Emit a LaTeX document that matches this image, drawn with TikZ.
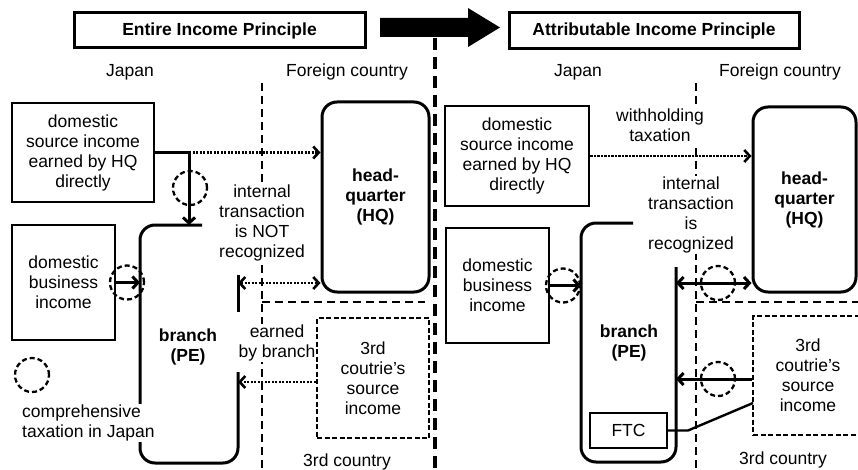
\documentclass[tikz,border=0pt]{standalone}
\usepackage{fontspec}
\setmainfont{Liberation Sans}
\usetikzlibrary{arrows.meta}

\tikzset{
  txt/.style={font=\fontsize{17.5}{20}\selectfont, align=center, inner sep=1pt},
  bold/.style={txt, font=\fontsize{17.5}{20}\selectfont\bfseries},
  knockout/.style={fill=white},
  box/.style={txt, draw, line width=2.8pt},
  titlebox/.style={box, font=\fontsize{17.5}{20}\selectfont\bfseries, line width=3pt},
  hqbox/.style={box, rounded corners=15pt, line width=3pt, font=\fontsize{17.5}{20}\selectfont\bfseries},
  thirdbox/.style={txt, draw, line width=2.6pt, dash pattern=on 5pt off 2.5pt},
  branchline/.style={line width=3pt, rounded corners=15pt},
  border/.style={line width=2.8pt, dash pattern=on 8pt off 5pt},
  divider/.style={line width=4pt, dash pattern=on 12pt off 7pt},
  barb/.tip={Straight Barb[length=5.5pt, width=12pt]},
  thickarrow/.style={line width=3pt, -barb},
  thickline/.style={line width=3pt},
  dotarrow/.style={line width=2.6pt, dash pattern=on 2.2pt off 1.3pt, -barb},
  taxcircle/.style={circle, draw, line width=2.3pt, dash pattern=on 5pt off 3pt, minimum size=34pt, inner sep=0pt},
}

\begin{document}
\begin{tikzpicture}[x=1pt, y=-1pt]
\useasboundingbox (0,0) rectangle (858,470);

% ---------- country borders (drawn first, text knocks them out) ----------
\draw[divider] (435,38) -- (435,470);
\draw[border] (262,83) -- (262,470);
\draw[border] (262,302) -- (425,302);
\draw[border] (696,83) -- (696,470);
\draw[border] (696,302) -- (870,302);

% ---------- transition arrow ----------
\fill (380,18) -- (468,18) -- (468,8) -- (500,27.5) -- (468,47) -- (468,37) -- (380,37) -- cycle;

% ---------- titles and regions ----------
\node[titlebox, minimum width=291pt, minimum height=35pt] (titleL) at (219.5,30.5) {Entire Income Principle};
\node[titlebox, minimum width=290pt, minimum height=36pt] (titleR) at (654,31) {Attributable Income Principle};

\node[txt] (japanL) at (130,72) {Japan};
\node[txt] (foreignL) at (347,72) {Foreign country};
\node[txt] (japanR) at (578,72) {Japan};
\node[txt] (foreignR) at (780,72) {Foreign country};
\node[txt] (thirdL) at (347,462) {3rd country};
\node[txt] (thirdR) at (783,460) {3rd country};

% ================= Entire Income Principle =================
\node[box, minimum width=142pt, minimum height=99pt] (dsiL) at (83,152.5)
  {domestic\\source income\\earned by HQ\\directly};
\node[box, minimum width=103pt, minimum height=115pt] (dbiL) at (63.5,282.5)
  {domestic\\business\\income};
\node[hqbox, minimum width=107pt, minimum height=190pt] (hqL) at (375.5,197)
  {head-\\quarter\\(HQ)};
\node[thirdbox, minimum width=112pt, minimum height=120pt] (tcL) at (373,378)
  {3rd\\coutrie's\\source\\income};

\node[txt, knockout] (intL) at (262,223) {internal\\transaction\\is NOT\\recognized};
\node[txt, knockout] (earnL) at (277,343) {earned\\by branch};

% branch (PE), open on the foreign side
\draw[branchline] (202,225) -- (140,225) -- (140,463) -- (238,463) -- (238,372);
\draw[thickline] (238,275) -- (238,312);
\node[bold] (brL) at (188,347) {branch\\(PE)};

\coordinate (jointL) at (189,152.5);
\coordinate (brTopL) at (189,225);
\coordinate (brInL) at (140,282.5);
\coordinate (brHqL) at (238,283);
\coordinate (brTcL) at (238,382);

\draw[thickline] (dsiL.east) -- (jointL);
\draw[thickarrow] (jointL) -- (brTopL);
\draw[dotarrow] (jointL) -- (jointL -| hqL.west);
\draw[thickarrow] (dbiL.east) -- (brInL);
\draw[dotarrow, barb-barb] (brHqL) -- (brHqL -| hqL.west);
\draw[dotarrow] (brTcL -| tcL.west) -- (brTcL);

\node[taxcircle] (cHqL) at (190,188) {};
\node[taxcircle] (cDbL) at (127,282.5) {};

% legend
\node[taxcircle] (legend) at (32,375) {};
\node[txt, knockout, anchor=west, align=left] (legendTxt) at (21,423)
  {comprehensive\\taxation in Japan};

% ================= Attributable Income Principle =================
\node[box, minimum width=144pt, minimum height=100pt] (dsiR) at (517,156)
  {domestic\\source income\\earned by HQ\\directly};
\node[box, minimum width=103pt, minimum height=115pt] (dbiR) at (497.5,285.5)
  {domestic\\business\\income};
\node[hqbox, minimum width=103pt, minimum height=185pt] (hqR) at (804.5,199.5)
  {head-\\quarter\\(HQ)};
\node[thirdbox, minimum width=110pt, minimum height=119pt] (tcR) at (808,375.5)
  {3rd\\coutrie's\\source\\income};

\node[txt, knockout] (whtR) at (660,125.5) {withholding\\taxation};
\node[txt, knockout] (intR) at (691,215) {internal\\transaction\\is\\recognized};

% branch (PE)
\draw[branchline] (633,223) -- (581,223) -- (581,462) -- (676,462) -- (676,267);
\node[bold] (brR) at (629,343) {branch\\(PE)};
\node[box, line width=2.4pt, minimum width=77pt, minimum height=35pt] (ftc) at (628.5,430.5) {FTC};

\coordinate (brInR) at (581,285.5);
\coordinate (brHqR) at (676,283);
\coordinate (brTcR) at (676,379);
\coordinate (ftcBend) at (688,430.5);
\coordinate (tcFtc) at (753,403);

\draw[dotarrow] (dsiR.east) -- (dsiR.east -| hqR.west);
\draw[thickarrow] (dbiR.east) -- (brInR);
\draw[thickarrow, barb-barb] (brHqR) -- (brHqR -| hqR.west);
\draw[thickarrow] (brTcR -| tcR.west) -- (brTcR);
\draw[line width=2.4pt] (ftc.east) -- (ftcBend) -- (tcFtc);

\node[taxcircle] (cDbR) at (563,285.5) {};
\node[taxcircle] (cHqR) at (718,283) {};
\node[taxcircle] (cTcR) at (718,379) {};

\end{tikzpicture}
\end{document}
